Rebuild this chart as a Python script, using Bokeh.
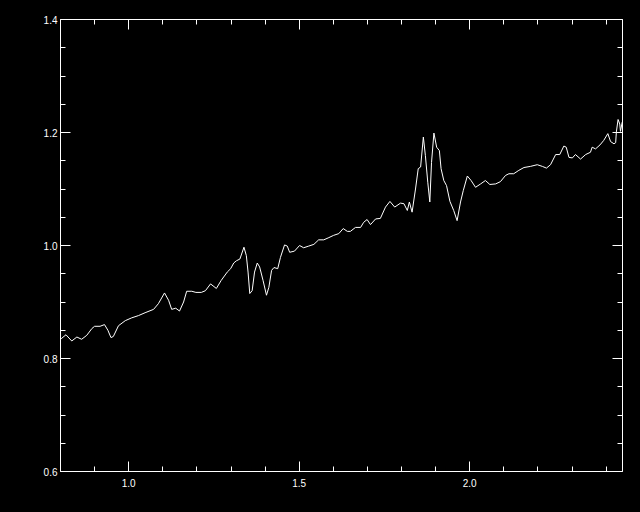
from bokeh.plotting import figure
from bokeh.models import (Range1d, LinearAxis, FixedTicker, PrintfTickFormatter,
                          GlobalInlineStyleSheet, CustomLabelingPolicy)
from bokeh.embed import file_html
from bokeh.resources import INLINE

wavelength = [0.802, 0.816, 0.833, 0.848, 0.862, 0.877, 0.892, 0.900, 0.916, 0.929,
              0.939, 0.948, 0.955, 0.970, 0.990, 1.009, 1.029, 1.048, 1.073, 1.087,
              1.105, 1.117, 1.126, 1.138, 1.149, 1.161, 1.170, 1.185, 1.197, 1.213,
              1.225, 1.240, 1.257, 1.271, 1.289, 1.299, 1.308, 1.316, 1.326, 1.338,
              1.345, 1.350, 1.355, 1.362, 1.369, 1.377, 1.384, 1.394, 1.404, 1.411,
              1.419, 1.426, 1.437, 1.445, 1.457, 1.465, 1.472, 1.486, 1.501, 1.513,
              1.528, 1.543, 1.557, 1.572, 1.587, 1.601, 1.616, 1.629, 1.641, 1.650,
              1.665, 1.680, 1.689, 1.699, 1.709, 1.724, 1.738, 1.753, 1.766, 1.780,
              1.797, 1.807, 1.817, 1.823, 1.831, 1.841, 1.849, 1.856, 1.864, 1.870,
              1.877, 1.883, 1.888, 1.895, 1.903, 1.911, 1.916, 1.924, 1.932, 1.942,
              1.953, 1.963, 1.973, 1.981, 1.993, 2.004, 2.017, 2.032, 2.046, 2.059,
              2.076, 2.090, 2.105, 2.115, 2.129, 2.144, 2.159, 2.178, 2.198, 2.213,
              2.225, 2.237, 2.252, 2.264, 2.276, 2.283, 2.291, 2.301, 2.310, 2.325,
              2.340, 2.354, 2.359, 2.369, 2.382, 2.393, 2.405, 2.413, 2.423, 2.428,
              2.430, 2.435, 2.440, 2.442, 2.447, 2.450]

flux = [0.835, 0.842, 0.831, 0.838, 0.834, 0.841, 0.853, 0.857, 0.857, 0.860,
        0.850, 0.837, 0.839, 0.858, 0.867, 0.872, 0.876, 0.881, 0.887, 0.897,
        0.916, 0.903, 0.887, 0.889, 0.884, 0.900, 0.919, 0.919, 0.917, 0.917,
        0.920, 0.932, 0.924, 0.938, 0.953, 0.959, 0.969, 0.973, 0.976, 0.997,
        0.982, 0.953, 0.915, 0.920, 0.953, 0.969, 0.962, 0.938, 0.912, 0.926,
        0.956, 0.961, 0.959, 0.979, 1.001, 0.999, 0.988, 0.990, 1.000, 0.996,
        0.999, 1.002, 1.010, 1.010, 1.014, 1.018, 1.021, 1.030, 1.025, 1.025,
        1.032, 1.032, 1.041, 1.046, 1.037, 1.047, 1.048, 1.068, 1.078, 1.068,
        1.075, 1.074, 1.062, 1.077, 1.059, 1.100, 1.136, 1.139, 1.192, 1.159,
        1.112, 1.077, 1.147, 1.199, 1.174, 1.168, 1.136, 1.115, 1.106, 1.078,
        1.062, 1.044, 1.077, 1.097, 1.123, 1.115, 1.103, 1.109, 1.115, 1.108,
        1.109, 1.113, 1.124, 1.127, 1.127, 1.133, 1.138, 1.140, 1.143, 1.140,
        1.137, 1.143, 1.161, 1.161, 1.176, 1.174, 1.156, 1.155, 1.161, 1.153,
        1.161, 1.165, 1.174, 1.171, 1.178, 1.186, 1.198, 1.184, 1.180, 1.182,
        1.201, 1.223, 1.215, 1.202, 1.218, 1.216]

x_major = [1.0, 1.5, 2.0]
x_minor = [0.8, 0.9, 1.0, 1.1, 1.2, 1.3, 1.4, 1.5, 1.6, 1.7, 1.8, 1.9, 2.0,
           2.1, 2.2, 2.3, 2.4]
y_major = [0.6, 0.8, 1.0, 1.2, 1.4]
y_minor = [0.6, 0.65, 0.7, 0.75, 0.8, 0.85, 0.9, 0.95, 1.0, 1.05, 1.1, 1.15,
           1.2, 1.25, 1.3, 1.35, 1.4]

FONT = "Liberation Sans"

p = figure(width=640, height=512, output_backend="svg", toolbar_location=None,
           x_range=Range1d(0.8, 2.448), y_range=Range1d(0.6, 1.4),
           x_axis_type=None, y_axis_type=None,
           min_border_left=60, min_border_right=18,
           min_border_top=19, min_border_bottom=41)
p.background_fill_color = "black"
p.border_fill_color = "black"
p.outline_line_color = None
p.stylesheets = [GlobalInlineStyleSheet(css="html,body{background:#000;}")]


def make_axis(major, minor, labels):
    ax = LinearAxis(ticker=FixedTicker(ticks=major, minor_ticks=minor),
                    formatter=PrintfTickFormatter(format="%.1f"))
    ax.axis_line_color = "white"
    ax.axis_line_width = 1
    ax.major_tick_line_color = "white"
    ax.minor_tick_line_color = "white"
    ax.major_tick_in = 10
    ax.major_tick_out = 0
    ax.minor_tick_in = 5
    ax.minor_tick_out = 0
    ax.major_label_text_color = "white"
    ax.major_label_text_font = FONT
    ax.major_label_text_font_size = "10px"
    ax.major_label_standoff = 3
    if not labels:
        ax.major_label_policy = CustomLabelingPolicy(code="return new Set()")
        ax.major_label_standoff = 0
    return ax


bottom = make_axis(x_major, x_minor, True)
bottom.major_label_standoff = 7
p.add_layout(bottom, "below")
p.add_layout(make_axis(x_major, x_minor, False), "above")
p.add_layout(make_axis(y_major, y_minor, True), "left")
p.add_layout(make_axis(y_major, y_minor, False), "right")

p.line(wavelength, flux, line_color="white", line_width=1)

open("out.html", "w").write(file_html(p, INLINE))
